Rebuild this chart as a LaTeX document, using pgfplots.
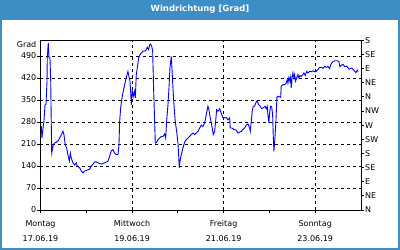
\documentclass[border=0pt]{standalone}
\usepackage{fontspec}
\setmainfont{DejaVu Sans}
\usepackage{pgfplots}
\usepackage{pgfplotstable}
\pgfplotsset{compat=1.18}
\definecolor{frameblue}{RGB}{60,142,196}
\definecolor{lineblue}{RGB}{0,0,255}
\pgfplotstableread{
d v
0.017 267
0.033 229
0.055 261
0.076 283
0.098 334
0.120 336
0.142 410
0.148 484
0.170 531
0.186 484
0.207 484
0.223 410
0.236 270
0.245 181
0.279 207
0.310 213
0.345 216
0.382 220
0.419 229
0.454 239
0.491 251
0.513 239
0.541 207
0.572 197
0.600 175
0.629 156
0.651 181
0.672 165
0.710 150
0.747 143
0.782 150
0.803 140
0.856 134
0.891 124
0.928 118
0.965 124
1.022 127
1.074 130
1.109 140
1.146 146
1.183 153
1.218 153
1.255 150
1.328 146
1.402 150
1.474 155
1.511 172
1.546 188
1.583 192
1.620 181
1.655 176
1.692 176
1.714 208
1.729 282
1.751 325
1.779 356
1.808 378
1.838 399
1.873 420
1.910 441
1.932 425
1.954 410
1.969 378
1.983 335
2.004 378
2.026 362
2.048 378
2.070 356
2.092 430
2.114 452
2.144 484
2.172 494
2.201 500
2.238 505
2.275 506
2.310 510
2.332 518
2.362 510
2.384 526
2.406 528
2.434 518
2.450 505
2.472 378
2.493 282
2.507 213
2.537 216
2.566 224
2.603 229
2.638 234
2.675 234
2.712 242
2.734 229
2.755 282
2.784 335
2.806 388
2.827 452
2.856 489
2.871 452
2.893 388
2.915 335
2.943 282
2.974 250
3.002 213
3.017 176
3.031 134
3.046 155
3.074 176
3.111 197
3.148 216
3.183 224
3.220 229
3.258 234
3.293 240
3.330 245
3.367 240
3.402 245
3.439 250
3.476 261
3.511 270
3.548 266
3.585 277
3.620 303
3.657 330
3.679 319
3.701 298
3.729 277
3.751 261
3.773 240
3.803 250
3.825 282
3.847 319
3.876 314
3.913 322
3.948 309
3.985 293
4.022 293
4.057 294
4.094 287
4.131 293
4.144 261
4.181 261
4.225 256
4.275 254
4.312 245
4.349 248
4.384 250
4.421 256
4.459 261
4.493 270
4.531 274
4.568 261
4.581 250
4.603 282
4.624 314
4.646 330
4.677 330
4.699 340
4.734 348
4.764 335
4.799 330
4.836 322
4.880 327
4.908 330
4.930 322
4.952 330
4.967 303
4.989 277
5.004 309
5.026 330
5.048 330
5.070 303
5.083 240
5.098 187
5.120 229
5.142 282
5.164 359
5.186 362
5.245 359
5.258 394
5.295 399
5.332 399
5.367 404
5.389 415
5.404 404
5.426 422
5.448 410
5.463 422
5.476 388
5.491 415
5.513 436
5.535 420
5.550 431
5.572 410
5.594 420
5.622 431
5.644 420
5.666 428
5.694 425
5.731 431
5.753 436
5.782 428
5.812 441
5.841 436
5.878 441
5.913 440
5.950 443
5.987 440
6.022 441
6.059 447
6.096 454
6.131 454
6.168 451
6.205 457
6.240 454
6.277 457
6.314 450
6.336 462
6.365 468
6.393 473
6.437 475
6.480 475
6.517 473
6.539 456
6.576 461
6.611 463
6.648 456
6.686 458
6.742 448
6.795 452
6.845 445
6.889 437
6.917 445
6.939 441
}\winddata
\begin{document}
\begin{tikzpicture}[x=1bp,y=1bp]
\fill[white] (-40.5,-40) rectangle (359.5,210);
\fill[frameblue] (-40.5,190) rectangle (359.5,210);
\draw[frameblue,line width=2bp] (-39.5,-39) rectangle (358.5,191);
\node[text=white,font=\fontsize{8.5bp}{10bp}\selectfont\bfseries] at (159.5,200.5) {Windrichtung [Grad]};
\node[anchor=east,font=\fontsize{8bp}{10bp}\selectfont,inner sep=0pt] at (-4,165) {Grad};
\begin{axis}[scale only axis,
  width=320.5bp, height=169.7bp,
  xmin=0, xmax=7, ymin=0, ymax=540,
  xtick={0,2,4,6}, minor xtick={1,3,5},
  xticklabels={{Montag\\17.06.19},{Mittwoch\\19.06.19},{Freitag\\21.06.19},{Sonntag\\23.06.19}},
  xticklabel style={align=center, font=\fontsize{8bp}{15bp}\selectfont, inner sep=0pt, yshift=-7bp},
  ytick={0,70,...,490},
  yticklabel style={font=\fontsize{8bp}{10bp}\selectfont, inner sep=0pt, xshift=-1bp},
  /pgf/number format/assume math mode=true,
  tick align=outside, xtick pos=bottom, ytick pos=left,
  major tick length=3bp, minor tick length=3bp,
  grid=major,
  major grid style={black, dash pattern=on 3bp off 3bp, line width=0.8bp},
  axis line style={black, line width=0.9bp},
  every tick/.style={black, line width=0.9bp},
  every minor tick/.style={black, line width=0.9bp},
  clip=false]
\addplot[lineblue, line width=0.9bp] table[x=d,y=v] {\winddata};
\end{axis}
\begin{axis}[scale only axis,
  width=320.5bp, height=169.7bp,
  xmin=0, xmax=7, ymin=0, ymax=540,
  axis x line=none, axis y line*=right,
  ytick={0,45,...,540},
  yticklabels={N,NE,E,SE,S,SW,W,NW,N,NE,E,SE,S},
  yticklabel style={font=\fontsize{8bp}{10bp}\selectfont, inner sep=0pt, anchor=west, xshift=1bp},
  tick align=outside, major tick length=3bp,
  axis line style={black, line width=0.9bp, -},
  every tick/.style={black, line width=0.9bp}]
\end{axis}
\end{tikzpicture}
\end{document}
